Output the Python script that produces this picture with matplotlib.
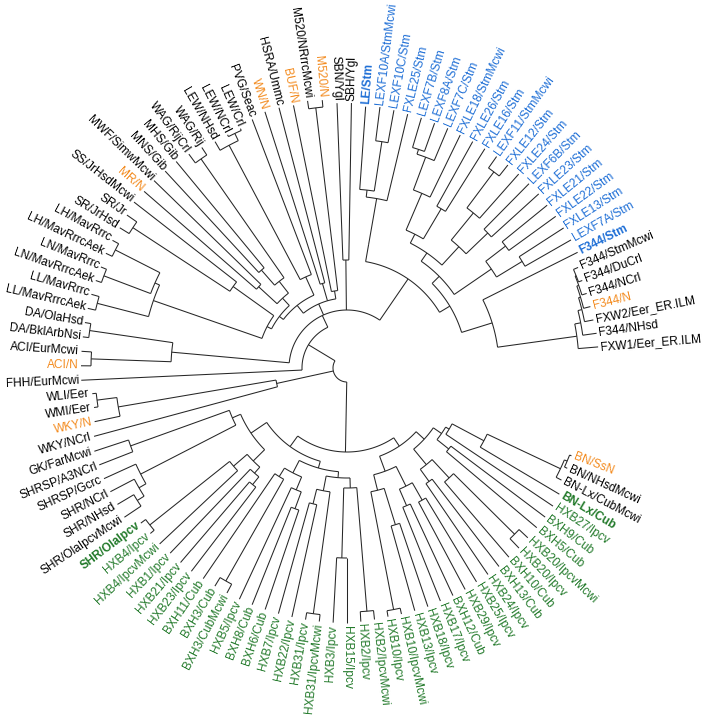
import numpy as np
import matplotlib
matplotlib.use("Agg")
import matplotlib.pyplot as plt

# ---- leaves in drawing order (counter-clockwise from the right) ----
leaves = [
    "FXW1/Eer_ER.ILM", "F344/NHsd", "FXW2/Eer_ER.ILM", "F344/N", "F344/NCrl",
    "F344/DuCrl", "F344/StmMcwi", "F344/Stm", "LEXF7A/Stm", "FXLE13/Stm",
    "FXLE22/Stm", "FXLE21/Stm", "FXLE23/Stm", "LEXF6B/Stm", "FXLE24/Stm",
    "FXLE12/Stm", "LEXF11/StmMcwi", "FXLE16/Stm", "FXLE26/Stm", "FXLE18/StmMcwi",
    "LEXF7C/Stm", "LEXF8A/Stm", "LEXF7B/Stm", "FXLE25/Stm", "LEXF10C/Stm",
    "LEXF10A/StmMcwi", "LE/Stm", "SBH/Ygl", "SBN/Ygl", "M520/N",
    "M520/NRrrcMcwi", "BUF/N", "HSRA/Ummc", "WN/N", "PVG/Seac",
    "LEW/Crl", "LEW/NCrl", "LEW/NHsd", "WAG/Rij", "WAG/RijCrl",
    "MHS/Gib", "MNS/Gib", "MWF/SimwMcwi", "MR/N", "SS/JrHsdMcwi",
    "SR/Jr", "SR/JrHsd", "LH/MavRrrc", "LH/MavRrrcAek", "LN/MavRrrc",
    "LN/MavRrrcAek", "LL/MavRrrc", "LL/MavRrrcAek", "DA/OlaHsd", "DA/BklArbNsi",
    "ACI/EurMcwi", "ACI/N", "FHH/EurMcwi", "WLI/Eer", "WMI/Eer",
    "WKY/N", "WKY/NCrl", "GK/FarMcwi", "SHRSP/A3NCrl", "SHRSP/Gcrc",
    "SHR/NCrl", "SHR/NHsd", "SHR/OlaIpcvMcwi", "SHR/OlaIpcv", "HXB4/Ipcv",
    "HXB4/IpcvMcwi", "HXB1/Ipcv", "HXB21/Ipcv", "HXB23/Ipcv", "BXH11/Cub",
    "BXH3/Cub", "BXH3/CubMcwi", "HXB5/Ipcv", "BXH8/Cub", "BXH6/Cub",
    "HXB7/Ipcv", "HXB22/Ipcv", "HXB31/Ipcv", "HXB31/IpcvMcwi", "HXB3/Ipcv",
    "HXB15/Ipcv", "HXB2/Ipcv", "HXB2/IpcvMcwi", "HXB10/Ipcv", "HXB10/IpcvMcwi",
    "HXB13/Ipcv", "HXB18/Ipcv", "HXB17/Ipcv", "BXH12/Cub", "HXB29/Ipcv",
    "HXB25/Ipcv", "HXB24/Ipcv", "BXH13/Cub", "BXH10/Cub", "HXB20/Ipcv",
    "HXB20/IpcvMcwi", "BXH5/Cub", "BXH9/Cub", "HXB27/Ipcv", "BN-Lx/Cub",
    "BN-Lx/CubMcwi", "BN/NHsdMcwi", "BN/SsN",
]

orange = ["F344/N", "M520/N", "BUF/N", "WN/N", "MR/N", "ACI/N", "WKY/N", "BN/SsN"]
blue = leaves[7:27]
green = leaves[68:105]
black_in_green = ["BN-Lx/CubMcwi"]
bold = ["F344/Stm", "LE/Stm", "SHR/OlaIpcv", "BN-Lx/Cub"]

# tip distance from the centre (pixels)
tip_r = [
    252, 252, 251, 251, 251, 251, 252, 258, 258, 258,
    258, 258, 259, 259, 259, 259, 259, 259, 259, 259,
    260, 260, 261, 261, 262, 263, 262, 265, 265, 269,
    270, 268, 269, 269, 266, 262, 262, 262, 264, 266,
    268, 268, 269, 269, 270, 268, 267, 267, 267, 266,
    266, 266, 266, 266, 266, 266, 266, 266, 256, 256,
    258, 262, 266, 266, 267, 267, 267, 268, 258, 257,
    257, 256, 256, 256, 255, 255, 255, 255, 255, 255,
    255, 255, 255, 255, 255, 255, 254, 253, 252, 252,
    252, 252, 251, 251, 251, 250, 250, 250, 249, 249,
    248, 248, 248, 248, 247, 242, 242, 241,
]

# ---- tree: (node radius, [children]) ----
F344grp = (232, ["FXW1/Eer_ER.ILM", (238, ["F344/NHsd", (242, ["FXW2/Eer_ER.ILM",
           (244, ["F344/N", (246, ["F344/NCrl", (247, ["F344/DuCrl", "F344/StmMcwi"])])])])])])
FA = (152, [F344grp, "F344/Stm"])
B3 = (175, [(205, ["LEXF7A/Stm", "FXLE13/Stm"]), (200, ["FXLE22/Stm", "FXLE21/Stm"])])
B6 = (165, [(195, ["FXLE23/Stm", "LEXF6B/Stm"]),
            (200, ["FXLE24/Stm", (245, ["FXLE12/Stm", "LEXF11/StmMcwi"])])])
B7 = (185, ["FXLE16/Stm", "FXLE26/Stm"])
B8 = (190, ["FXLE18/StmMcwi", (225, ["LEXF7C/Stm", (230, ["LEXF8A/Stm", "LEXF7B/Stm"])])])
B9 = (172, ["FXLE25/Stm", (179, [(229, ["LEXF10C/Stm", "LEXF10A/StmMcwi"]), "LE/Stm"])])
BX = (120, [FA, (130, [B3, (140, [B6, (150, [B7, B8])])])])
TR = (108, [BX, (125, [B9])])
SB = (108, ["SBH/Ygl", "SBN/Ygl"])

T1 = (78, [(262, ["M520/N", "M520/NRrrcMcwi"]), "BUF/N"])
T2 = (88, ["HSRA/Ummc", "WN/N"])
T3 = (100, ["PVG/Seac", (252, [(260, ["LEW/Crl", "LEW/NCrl"]), "LEW/NHsd"])])
T4 = (110, [(255, ["WAG/Rij", "WAG/RijCrl"]), (130, ["MHS/Gib", "MNS/Gib"])])
T5 = (120, ["MWF/SimwMcwi", "MR/N"])
T6 = (140, ["SS/JrHsdMcwi", (256, ["SR/Jr", "SR/JrHsd"])])
T7 = (205, [(210, [(260, ["LH/MavRrrc", "LH/MavRrrcAek"]), (260, ["LN/MavRrrc", "LN/MavRrrcAek"])]),
            (258, ["LL/MavRrrc", "LL/MavRrrcAek"])])
TL = (70, [T1, T2, (80, [T3, (85, [(95, [T4, T5]), (90, [T6, T7])])])])
DAACI = (176, [(260, ["DA/OlaHsd", "DA/BklArbNsi"]), (256, ["ACI/EurMcwi", "ACI/N"])])
UPPER = (45, [(58, [TR, SB, TL, DAACI]), "FHH/EurMcwi"])

WKYG = (72, [(232, [(252, ["WLI/Eer", "WMI/Eer"]), "WKY/N"]), "WKY/NCrl"])

SHRG = (125, [(230, ["GK/FarMcwi", "SHRSP/A3NCrl"]),
              (232, ["SHRSP/Gcrc", (240, ["SHR/NCrl", (248, ["SHR/NHsd", "SHR/OlaIpcvMcwi"])])])])
HA = (132, [(150, [(252, ["SHR/OlaIpcv", "HXB4/Ipcv"]), "HXB4/IpcvMcwi"]),
            (140, ["HXB1/Ipcv", (150, ["HXB21/Ipcv", "HXB23/Ipcv"])])])
HB = (118, [(128, ["BXH11/Cub", (245, ["BXH3/Cub", "BXH3/CubMcwi"])]),
            (132, ["HXB5/Ipcv", (150, ["BXH8/Cub", "BXH6/Cub"])])])
HC = (110, [(125, [(140, ["HXB7/Ipcv", "HXB22/Ipcv"]), (248, ["HXB31/Ipcv", "HXB31/IpcvMcwi"])]),
            (120, [(190, ["HXB3/Ipcv", "HXB15/Ipcv"]), (244, ["HXB2/Ipcv", "HXB2/IpcvMcwi"])])])
HD = (110, [(126, [(246, ["HXB10/Ipcv", "HXB10/IpcvMcwi"]), (164, ["HXB13/Ipcv", "HXB18/Ipcv"])]),
            (132, [(150, ["HXB17/Ipcv", "BXH12/Cub"]), (152, ["HXB29/Ipcv", "HXB25/Ipcv"])])])
BNG = (155, ["BN-Lx/Cub", (236, ["BN-Lx/CubMcwi", (239, ["BN/NHsdMcwi", "BN/SsN"])])])
HE = (105, [(125, [(140, ["HXB24/Ipcv", "BXH13/Cub"]),
                   (150, ["BXH10/Cub", (236, ["HXB20/Ipcv", "HXB20/IpcvMcwi"])])]),
            (115, [(130, ["BXH5/Cub", "BXH9/Cub"]), (119, ["HXB27/Ipcv", BNG])])])
LOWER = (84, [(97, [(116, [SHRG, HA]), (104, [HB, HC])]), (94, [HD, HE])])

ROOT = (14, [UPPER, WKYG, LOWER])

# ---- layout ----
cx, cy = 347, 368
theta0, dtheta = 4.8, 3.12
palette = {"k": "#000000", "o": "#f38b1f", "b": "#1f6fd6", "g": "#237a2b"}
line_kw = dict(color="#262626", lw=0.75, solid_capstyle="butt")

plt.rcParams["font.family"] = ["Liberation Sans", "DejaVu Sans"]
fig = plt.figure(figsize=(7.05, 7.19), dpi=100)
ax = fig.add_axes([0, 0, 1, 1])
ax.set_xlim(0, 705)
ax.set_ylim(719, 0)
ax.axis("off")


def xy(r, deg):
    a = np.radians(deg)
    return cx + r * np.cos(a), cy - r * np.sin(a)


def draw(node, parent_r):
    if isinstance(node, str):
        i = leaves.index(node)
        ang = theta0 + i * dtheta
        r = tip_r[i]
    else:
        r, kids = node
        angs = [draw(k, r) for k in kids]
        if len(angs) > 1:
            arc = np.linspace(min(angs), max(angs), 60)
            x, y = xy(r, arc)
            ax.plot(x, y, **line_kw)
        ang = (min(angs) + max(angs)) / 2
    if parent_r is not None:
        x, y = xy(np.array([parent_r, r]), ang)
        ax.plot(x, y, **line_kw)
    return ang


draw(ROOT, None)


def colour_of(name):
    if name in orange:
        return palette["o"]
    if name in blue:
        return palette["b"]
    if name in green and name not in black_in_green:
        return palette["g"]
    return palette["k"]


for i, name in enumerate(leaves):
    ang = theta0 + i * dtheta
    x, y = xy(tip_r[i] + 2.5, ang)
    if 90 < ang % 360 < 270:
        rot, ha = ang - 180, "right"
    else:
        rot, ha = ang, "left"
    ax.text(x, y, name, rotation=rot, rotation_mode="anchor", ha=ha, va="center",
            fontsize=8.6, color=colour_of(name),
            fontweight="bold" if name in bold else "normal")

fig.savefig("out.png", dpi=100)
